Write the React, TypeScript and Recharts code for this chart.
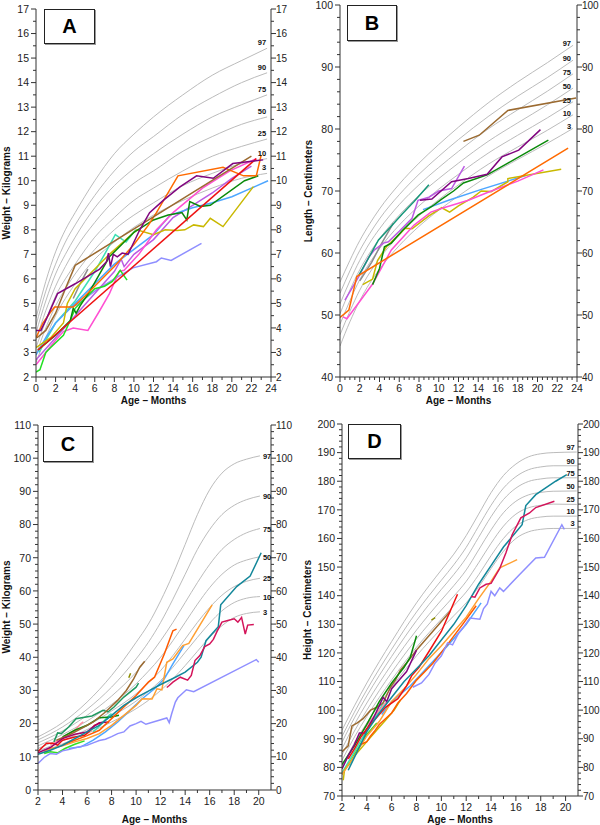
import React from 'react';
import { LineChart, Line, XAxis, YAxis } from 'recharts';

type Pt = [number, number];

const FONT = '"Liberation Sans", Arial, Helvetica, sans-serif';
const CENTILE_NAMES = ['97', '90', '75', '50', '25', '10', '3'];

// ---------- Panel A: weight, 0-24 months ----------
const A_AGES = [0, 1, 2, 3, 4, 6, 8, 10, 12, 15, 18, 21, 23.6];
const A_P97 = [4.4, 5.9, 7.1, 8.0, 8.7, 10.0, 11.1, 11.9, 12.6, 13.5, 14.3, 14.9, 15.4];
const A_P90 = [4.1, 5.5, 6.6, 7.5, 8.2, 9.4, 10.4, 11.2, 11.8, 12.7, 13.4, 14.0, 14.4];
const A_P75 = [3.8, 5.1, 6.2, 7.0, 7.7, 8.9, 9.8, 10.5, 11.1, 11.9, 12.6, 13.1, 13.5];
const A_P50 = [3.5, 4.7, 5.7, 6.5, 7.2, 8.3, 9.2, 9.9, 10.4, 11.2, 11.8, 12.3, 12.6];
const A_P25 = [3.2, 4.3, 5.3, 6.0, 6.6, 7.7, 8.5, 9.2, 9.7, 10.4, 11.0, 11.4, 11.7];
const A_P10 = [2.9, 4.0, 4.9, 5.6, 6.2, 7.2, 8.0, 8.6, 9.1, 9.8, 10.3, 10.7, 10.9];
const A_P3 = [2.6, 3.6, 4.5, 5.2, 5.8, 6.8, 7.5, 8.1, 8.6, 9.2, 9.7, 10.1, 10.3];

const A_RED: Pt[] = [[0.2, 3.1], [22.5, 10.9]];
const A_BROWN: Pt[] = [[0.1, 3.6], [1, 3.9], [2, 4.6], [3, 5.6], [4, 6.55], [22, 11.0]];
const A_PURPLE: Pt[] = [[0, 3.9], [0.5, 3.9], [1.1, 4.4], [2.2, 5.4], [4, 5.8], [6.5, 6.4], [7.2, 6.7], [7.4, 7.05], [7.6, 6.5], [7.9, 7.0], [8.3, 6.9], [8.8, 7.05], [9.4, 7.0], [10.6, 8.0], [11.6, 8.7], [13, 9.2], [14.7, 9.75], [16.4, 10.2], [18.1, 10.1], [20.1, 10.7], [23.2, 10.85]];
const A_ORANGE: Pt[] = [[0, 3.6], [0.7, 4.2], [1.4, 4.6], [1.9, 4.85], [3.8, 4.85], [5, 5.3], [6.5, 5.9], [8, 6.5], [10, 7.4], [11.5, 8.2], [12.3, 8.7], [14.5, 10.2], [19.1, 10.55], [21.2, 10.2], [22.5, 10.2], [23, 11.05]];
const A_DKGREEN: Pt[] = [[0.2, 3.1], [2, 3.7], [3.5, 4.3], [3.8, 4.8], [4.1, 4.6], [4.5, 4.9], [5.5, 5.5], [6.5, 6.2], [7.5, 6.9], [8.5, 7.3], [10, 7.9], [12, 8.4], [13.5, 8.6], [14.9, 8.7], [15.4, 8.4], [15.7, 9.15], [16.8, 8.95], [17.8, 9.0], [21.3, 10.0], [22.7, 10.2]];
const A_BLUE: Pt[] = [[0, 2.9], [1, 3.6], [2, 4.2], [4, 5.0], [6, 5.8], [8, 6.6], [10, 7.2], [12, 7.8], [13.7, 8.6], [16, 8.9], [18, 9.1], [20, 9.35], [22, 9.7], [23.7, 10.0]];
const A_YELLOW: Pt[] = [[0, 3.2], [1.5, 3.6], [2.8, 4.2], [3.2, 5.0], [4, 5.6], [5.5, 6.2], [7.5, 7.0], [10.3, 8.0], [12, 7.8], [13.2, 8.0], [14.4, 7.97], [15.2, 8.0], [16.1, 8.2], [17.1, 8.13], [17.8, 8.47], [19.1, 8.13], [22.2, 9.76]];
const A_PINK: Pt[] = [[0, 2.5], [1, 3.0], [2, 3.5], [2.8, 3.85], [3.8, 4.0], [5.3, 3.9], [6.5, 4.7], [7.5, 5.4], [8.5, 6.3], [9.0, 6.35], [10.5, 7.0], [12.3, 8.0], [14, 8.7], [17, 9.7], [19.8, 10.4], [22.5, 10.9]];
const A_ORCHID: Pt[] = [[0, 2.7], [2, 3.6], [4, 4.5], [6, 5.4], [8, 6.3], [8.7, 6.8], [9, 6.5], [10, 7.0], [12, 7.6], [14, 8.5], [16, 9.0], [18, 9.5], [20, 10.1], [22, 10.6]];
const A_AQUA: Pt[] = [[0.3, 3.0], [2, 4.2], [4, 5.1], [6, 6.3], [7, 7.0], [8.1, 7.8], [9.2, 7.5], [10.2, 8.0]];
const A_BRGREEN: Pt[] = [[0, 2.2], [0.4, 2.3], [1, 3.0], [1.5, 3.2], [2.8, 3.7], [3.5, 4.3], [4, 4.8], [5, 5.2], [6, 5.6], [7, 5.7], [7.8, 5.9], [8.6, 6.35], [9.3, 5.95]];
const A_PERI: Pt[] = [[4, 4.9], [6, 5.5], [8, 6.0], [9.9, 6.45], [12.3, 6.7], [12.8, 6.85], [13.8, 6.75], [16.9, 7.45]];
const A_GRAY: Pt[] = [[3.8, 5.2], [4.5, 5.8], [5.3, 6.4]];

// ---------- Panel B: length, 0-24 months ----------
const B_AGES = [0, 1, 2, 3, 4, 6, 8, 10, 12, 15, 18, 21, 23.6];
const B_P97 = [55.3, 58.8, 62.0, 64.7, 67.1, 71.1, 74.5, 77.5, 80.3, 84.2, 87.6, 90.7, 93.5];
const B_P90 = [53.5, 57.1, 60.4, 63.1, 65.5, 69.4, 72.7, 75.6, 78.3, 82.0, 85.3, 88.3, 91.1];
const B_P75 = [51.8, 55.5, 58.8, 61.6, 63.9, 67.8, 71.0, 73.8, 76.4, 80.0, 83.1, 86.1, 88.9];
const B_P50 = [50.2, 54.0, 57.3, 60.0, 62.3, 66.1, 69.3, 72.0, 74.5, 78.0, 81.0, 83.9, 86.6];
const B_P25 = [48.5, 52.3, 55.7, 58.4, 60.7, 64.5, 67.6, 70.3, 72.7, 76.1, 79.0, 81.8, 84.4];
const B_P10 = [46.8, 50.6, 54.0, 56.8, 59.1, 62.9, 66.0, 68.6, 71.0, 74.3, 77.1, 79.8, 82.3];
const B_P3 = [45.0, 48.9, 52.3, 55.1, 57.4, 61.2, 64.3, 66.9, 69.2, 72.4, 75.1, 77.7, 80.1];

const B_BROWN: Pt[] = [[12.5, 78.0], [14.1, 79.0], [17.0, 83.0], [23.9, 85.0]];
const B_PURPLE: Pt[] = [[8.1, 68.5], [9.3, 68.7], [11.3, 71.5], [13, 72.0], [14.9, 72.7], [16.4, 75.5], [18.1, 76.6], [20.3, 79.9]];
const B_DKGREEN: Pt[] = [[3.3, 54.9], [4.0, 57.5], [4.5, 61.0], [5.2, 61.6], [6.3, 63.6], [7.9, 66.1], [9.3, 67.5], [10.3, 68.7], [11.5, 70.0], [12.5, 71.3], [14.9, 72.6], [17, 74.5], [21.1, 78.2]];
const B_TEAL: Pt[] = [[1.9, 56.4], [3.0, 59.5], [3.9, 62.1], [5, 64.0], [6.3, 66.3], [7.5, 68.3], [9.0, 71.0]];
const B_ORCHID: Pt[] = [[0.5, 52.4], [1.9, 56.2], [2.9, 59.3], [3.5, 60.5], [4.4, 61.6], [4.9, 61.8], [6, 63.5], [7.3, 65.6], [7.9, 68.5], [9, 69.0], [10, 70.0], [11.3, 70.4], [12.6, 74.0]];
const B_BLUE: Pt[] = [[8.4, 67.0], [11, 68.5], [14.4, 70.3], [18.8, 72.5]];
const B_YELLOW: Pt[] = [[2.3, 54.9], [3.3, 55.8], [3.8, 58.8], [4.7, 61.0], [6, 63.0], [6.6, 64.0], [7.3, 63.9], [9, 66.0], [10.3, 67.3], [11.1, 66.6], [12, 67.6], [13.5, 69.0], [14.3, 70.0], [15.3, 69.9], [17.0, 71.5], [17.0, 72.0], [22.4, 73.5]];
const B_PINK: Pt[] = [[0.3, 49.7], [0.7, 49.4], [3.3, 55.0], [5.2, 60.5], [7.5, 64.5], [9.2, 66.6], [10.5, 67.3], [13, 68.5], [15, 69.8], [18, 71.6], [20.6, 73.4]];
const B_ORANGE: Pt[] = [[0, 49.6], [0.9, 50.8], [1.3, 53.5], [1.7, 56.2], [23.1, 76.9]];
const B_GRAY: Pt[] = [[2.0, 55.5], [3.2, 58.5], [4.2, 61.5], [5.4, 64.8]];

// ---------- Panel C: weight, 2-20 years ----------
const C_AGES = [2, 4, 6, 8, 10, 11, 12, 13, 14, 15, 16, 17, 18, 19, 20.1];
const C_P97 = [16.0, 20.3, 26.5, 34.5, 44.5, 50.0, 57.0, 65.0, 74.0, 83.0, 90.5, 95.5, 98.3, 99.7, 100.7];
const C_P90 = [15.1, 19.0, 24.3, 31.0, 39.5, 44.5, 50.5, 57.5, 65.0, 72.5, 78.5, 83.0, 85.8, 87.5, 88.6];
const C_P75 = [14.2, 17.8, 22.5, 28.3, 35.5, 40.0, 45.0, 50.5, 56.5, 62.5, 68.0, 72.5, 75.5, 77.5, 78.8];
const C_P50 = [13.3, 16.7, 20.8, 25.8, 32.0, 35.8, 40.0, 45.0, 50.5, 56.0, 61.0, 65.0, 67.8, 69.3, 70.3];
const C_P25 = [12.5, 15.7, 19.3, 23.8, 29.0, 32.3, 36.0, 40.5, 45.5, 50.5, 55.0, 58.7, 61.3, 62.9, 63.8];
const C_P10 = [11.7, 14.8, 18.2, 22.2, 26.8, 29.7, 33.0, 37.0, 41.5, 46.0, 50.3, 54.0, 56.5, 57.8, 58.3];
const C_P3 = [10.8, 13.9, 17.0, 20.5, 24.5, 27.0, 30.0, 33.5, 37.5, 41.8, 46.0, 49.5, 52.0, 53.2, 53.7];

const C_PERI: Pt[] = [[2, 8.0], [2.5, 9.8], [3, 11.0], [3.5, 10.8], [4, 11.8], [4.5, 12.2], [5, 12.7], [5.6, 13.2], [6, 13.5], [6.5, 14.2], [7, 14.9], [7.5, 15.3], [8, 16.1], [8.5, 17.0], [9, 17.5], [9.5, 19.3], [10, 20.0], [10.4, 20.7], [10.8, 19.8], [12.5, 21.7], [12.7, 20.3], [12.9, 23.0], [13.2, 26.5], [13.4, 27.8], [14.1, 30.2], [14.7, 29.6], [19.8, 39.3], [20.0, 38.5]];
const C_CRIMSON: Pt[] = [[12.5, 30.9], [12.7, 31.5], [13.0, 32.5], [13.6, 34.0], [14.2, 33.1], [14.5, 34.5], [14.8, 39.0], [15.2, 40.5], [15.6, 43.2], [16.0, 44.0], [16.3, 45.4], [16.6, 47.8], [17.0, 50.6], [17.4, 51.0], [18.0, 51.6], [18.3, 50.6], [18.6, 52.0], [18.9, 47.0], [19.1, 49.7], [19.6, 49.9]];
const C_TEAL: Pt[] = [[2, 10.8], [3, 12.0], [4, 13.5], [5, 15.5], [6, 17.5], [7, 19.5], [8, 22.5], [9, 25.5], [10, 27.8], [11, 29.8], [12, 31.8], [13, 33.6], [14, 35.5], [15, 38.5], [15.3, 40.0], [15.7, 45.0], [16.7, 49.2], [16.9, 55.8], [18.2, 61.3], [19.3, 64.5], [20.2, 71.5]];
const C_ORANGE: Pt[] = [[4, 13.6], [5, 15.0], [6, 16.4], [7, 18.0], [8, 21.5], [9, 25.0], [10, 28.5], [11, 32.5], [11.5, 34.0], [12.3, 41.0], [13.0, 48.0], [13.3, 48.5]];
const C_LTORANGE: Pt[] = [[2.5, 11.5], [3, 12.5], [4, 13.3], [5, 14.5], [6, 15.5], [7, 17.0], [8, 19.5], [9, 22.5], [10, 25.5], [10.5, 27.5], [11.3, 27.4], [11.7, 30.5], [12.1, 30.2], [12.5, 38.5], [13.0, 39.5], [13.8, 43.5], [14.3, 44.2], [16.2, 55.8]];
const C_BLUE: Pt[] = [[4.5, 12.5], [5.5, 13.0], [6.5, 15.0], [7.5, 17.5], [8.5, 20.5], [9.5, 24.0], [10.5, 27.5], [11.5, 30.5], [12.3, 33.5], [13, 38], [13.9, 43.5]];
const C_BROWN: Pt[] = [[3.5, 15.0], [4.5, 16.5], [5.5, 18.5], [6.5, 20.5], [7.5, 23.5], [8.5, 27.0], [9.2, 30], [9.8, 33.5], [10.3, 37.0], [10.7, 38.8]];
const C_OLIVE: Pt[] = [[9.4, 33.8], [9.55, 35.2]];
const C_SEAGREEN: Pt[] = [[3.3, 14.5], [3.6, 17.2], [3.9, 17.0], [4.5, 19.0], [5.1, 21.5], [6.4, 22.3], [7.3, 24.0], [7.7, 23.5], [8.2, 25.0], [9.0, 28.0], [10.0, 31.0], [10.2, 32.2]];
const C_BRGREEN: Pt[] = [[2.5, 11.0], [3, 11.5], [3.6, 11.2], [4.2, 12.5], [5, 13.8], [5.8, 14.8]];
const C_DKGREEN: Pt[] = [[4, 16], [5, 18], [6, 19.5], [7, 21.8], [8, 22.0], [8.6, 22.5]];
const C_RED: Pt[] = [[2, 11.6], [2.7, 14.1], [3.2, 14.1], [3.6, 13.5], [4.0, 15.0], [5.0, 16.0], [5.8, 16.5], [6.3, 18.0], [6.6, 19.5], [7.1, 20.2]];
const C_MAGENTA: Pt[] = [[2, 11.2], [3, 12.8], [4, 15.5], [5, 16.8], [6, 17.5], [6.5, 19.0], [7.0, 20.3], [7.8, 20.5]];
const C_SALMON: Pt[] = [[3, 13.5], [3.7, 15.0], [4.3, 16.5], [5.0, 18.0], [5.5, 20.0], [5.7, 20.5]];
const C_AQUA: Pt[] = [[6.5, 17.5], [7.2, 20], [7.8, 22.5], [8, 23.0]];

// ---------- Panel D: height, 2-20 years ----------
const D_AGES = [2, 3, 4, 6, 8, 10, 11, 12, 13, 14, 15, 16, 17, 18, 19, 20.9];
const D_P97 = [93.0, 101.5, 109.5, 124.0, 137.5, 149.0, 154.5, 161.0, 168.5, 176.0, 182.0, 186.0, 188.5, 189.6, 190.0, 190.2];
const D_P90 = [90.8, 99.3, 107.1, 121.3, 134.3, 145.4, 150.8, 156.9, 164.3, 171.6, 177.6, 181.6, 184.0, 185.0, 185.4, 185.4];
const D_P75 = [88.8, 97.3, 105.0, 118.8, 131.3, 142.2, 147.4, 153.2, 160.4, 167.6, 173.6, 177.6, 179.9, 180.8, 181.2, 181.2];
const D_P50 = [86.5, 95.0, 102.5, 116.0, 128.0, 138.5, 143.5, 149.0, 156.0, 163.0, 169.0, 173.0, 175.2, 176.1, 176.5, 176.6];
const D_P25 = [84.4, 92.7, 100.0, 113.2, 124.9, 135.0, 139.8, 145.0, 151.5, 158.3, 164.3, 168.5, 170.7, 171.6, 172.0, 171.9];
const D_P10 = [82.5, 90.6, 97.8, 110.6, 122.0, 131.8, 136.5, 141.3, 147.3, 154.0, 160.0, 164.3, 166.6, 167.5, 167.8, 167.8];
const D_P3 = [80.5, 88.5, 95.5, 108.0, 119.0, 128.5, 133.0, 137.5, 143.0, 149.5, 155.5, 160.0, 162.3, 163.2, 163.5, 163.5];

const D_PERI: Pt[] = [[7.7, 108.0], [8.4, 109.5], [9.0, 112.5], [9.5, 116.5], [10.0, 119.0], [10.5, 123.5], [10.9, 122.8], [11.4, 127.0], [11.7, 128.5], [12.3, 132.2], [13.1, 131.8], [13.4, 135.5], [13.7, 137.1], [14.0, 141.5], [14.3, 140.0], [14.7, 142.7], [15.0, 141.5], [16.3, 147.4], [17.6, 153.2], [18.3, 153.4], [19.7, 164.8], [19.9, 163.2]];
const D_TEAL: Pt[] = [[2.5, 79.0], [3.0, 83.5], [3.5, 88.0], [4.0, 92.5], [5.0, 99.0], [6.0, 104.5], [7.0, 110.0], [8.0, 114.5], [9.0, 119.0], [10.0, 124.5], [11.0, 130.0], [12.0, 136.5], [13.0, 144.0], [14.0, 150.5], [15.0, 157.0], [16.5, 164.8], [16.8, 171.5], [17.6, 175.3], [19.2, 180.0], [20.1, 182.3]];
const D_CRIMSON: Pt[] = [[12.4, 139.7], [12.7, 139.5], [13.1, 142.7], [13.6, 144.0], [14.0, 144.3], [14.7, 149.5], [15.2, 155.0], [15.7, 161.3], [16.4, 167.2], [17.1, 168.9], [17.6, 170.8], [19.1, 173.0]];
const D_LTORANGE: Pt[] = [[2.0, 77.5], [3.0, 84.0], [4.0, 91.0], [5, 96], [6, 103.0], [7, 107.5], [8, 112.5], [9, 118.0], [10, 122.5], [11, 127.5], [12, 132.5], [13, 139.0], [14, 145], [14.7, 149.7], [16.1, 152.6]];
const D_ORANGE: Pt[] = [[3.5, 88.0], [4.0, 89.0], [4.3, 91.0], [4.6, 92.5], [5.0, 95.0], [5.5, 97.0], [6.0, 99.0], [6.5, 102.5], [7.2, 105.8], [8.0, 110.5], [9.3, 116.3], [10.5, 123.0], [11.8, 130.5], [12.8, 136.5]];
const D_BLUE: Pt[] = [[5.2, 98.5], [6, 103], [7.5, 108.5], [9, 115.5], [10.5, 122.5], [12, 130.0], [13.2, 137.5]];
const D_RED: Pt[] = [[2.5, 83.0], [3.0, 86.5], [3.5, 90.5], [4.0, 93.5], [5.0, 98.5], [5.5, 101.0], [6.5, 104.0], [7.2, 108.5], [7.6, 112.0], [8.2, 115.0], [9.0, 120.5], [10.0, 127.5], [11.3, 140.5]];
const D_DKGREEN: Pt[] = [[2.0, 81.0], [3.0, 87.5], [4.0, 95.0], [5.0, 103.0], [6.0, 109.5], [7.0, 115.0], [7.5, 118.5], [8.0, 126.0]];
const D_BROWN: Pt[] = [[2.0, 85.5], [2.5, 87.5], [2.8, 94.5], [3.2, 95.5], [3.7, 97.0], [4.3, 100.0], [4.8, 101.0], [5.3, 102.5], [5.9, 108.0], [6.3, 110.5], [6.7, 114.0], [7.3, 117.0], [8.0, 121.0], [9.0, 126.0], [10.0, 131.0], [10.7, 134.5]];
const D_PURPLE: Pt[] = [[2.0, 79.5], [2.5, 84.0], [3.0, 88.0], [3.4, 92.0], [3.8, 92.0], [4.5, 97.0], [5.0, 101.5], [5.3, 104.5], [5.6, 103.0], [6.0, 107.5], [6.5, 110.0], [7.2, 113.5], [8.0, 121.0]];
const D_BRGREEN: Pt[] = [[2.5, 80.5], [3.0, 84.5], [3.5, 88.0], [4.0, 91.5], [4.4, 93.5], [4.8, 95.5]];
const D_YELLOW: Pt[] = [[2.1, 75.5], [2.2, 79.0], [3.0, 84.0], [4.0, 89.0], [5.0, 94.0], [5.5, 96.5], [6.2, 100.0], [6.7, 103.5]];
const D_SALMON: Pt[] = [[3.0, 88.5], [3.7, 93.0], [4.5, 97.5], [5.0, 100.0], [5.6, 103.0]];
const D_AQUA: Pt[] = [[2.0, 78.0], [3.0, 85.5], [4.0, 93.0], [5.0, 100.0], [5.5, 104.0]];
const D_OLIVE: Pt[] = [[9.2, 131.5], [9.5, 132.3]];

const range = (a: number, b: number, s: number) => {
  const out: number[] = [];
  for (let v = a; v <= b + 1e-9; v += s) out.push(Math.round(v * 100) / 100);
  return out;
};

const isMajor = (v: number, every: number) => Math.abs(v / every - Math.round(v / every)) < 1e-6;

function AxisTick(props: any) {
  const { x, y, payload, side, every } = props;
  const v = payload.value;
  const major = isMajor(v, every);
  const len = major ? 5 : 3;
  const txt = { fontFamily: FONT, fontSize: 10.5, fill: '#222' };
  if (side === 'left') {
    return (
      <g>
        <line x1={x - len} x2={x} y1={y} y2={y} stroke="#333" />
        {major && <text x={x - 7} y={y} dy={3.8} textAnchor="end" {...txt}>{v}</text>}
      </g>
    );
  }
  if (side === 'right') {
    return (
      <g>
        <line x1={x} x2={x + len} y1={y} y2={y} stroke="#333" />
        {major && <text x={x + 5} y={y} dy={3.6} textAnchor="start" {...txt} fontSize={10}>{v}</text>}
      </g>
    );
  }
  return (
    <g>
      <line x1={x} x2={x} y1={y} y2={y + len} stroke="#333" />
      {major && <text x={x} y={y + 15} textAnchor="middle" {...txt}>{v}</text>}
    </g>
  );
}

const rows = (pts: Pt[]) => pts.map(([x, y]) => ({ x, y }));

interface PanelCfg {
  left: number; top: number; letter: string; yTitle: string;
  xDomain: [number, number]; yDomain: [number, number];
  xTicks: number[]; yTicks: number[]; xMajor: number; yMajor: number;
  margin: { top: number; bottom: number; left: number; right: number };
  yLeftW: number; yRightW: number;
  ages: number[]; centiles: number[][];
  patients: [Pt[], string][];
  lab: { dx: number; dy: number; anchor: string };
  box: { x: number; y: number; w: number; h: number };
  yTitlePos: { x: number; y: number };
  xTitleY: number;
}

const PANELS: PanelCfg[] = [
  {
    left: 0, top: 0, letter: 'A', yTitle: 'Weight – Kilograms',
    xDomain: [0, 24], yDomain: [2, 17], xTicks: range(0, 24, 1), yTicks: range(2, 17, 0.5), xMajor: 2, yMajor: 1,
    margin: { top: 9, bottom: 13, left: 0, right: 0 }, yLeftW: 36, yRightW: 29,
    ages: A_AGES, centiles: [A_P97, A_P90, A_P75, A_P50, A_P25, A_P10, A_P3],
    patients: [
      [A_GRAY, '#8c8c8c'], [A_PERI, '#8f8fff'], [A_ORCHID, '#bb5be3'], [A_AQUA, '#3ee0b4'],
      [A_BLUE, '#4da6ff'], [A_YELLOW, '#c9b800'], [A_PINK, '#ff4fd2'], [A_BRGREEN, '#22e022'],
      [A_DKGREEN, '#0a8a0a'], [A_ORANGE, '#ff6a00'], [A_BROWN, '#9b6a30'], [A_RED, '#ee1111'],
      [A_PURPLE, '#80057f'],
    ],
    lab: { dx: -1, dy: -3, anchor: 'end' },
    box: { x: 44, y: 9, w: 51, h: 35 }, yTitlePos: { x: 7, y: 193 }, xTitleY: 401,
  },
  {
    left: 300, top: 0, letter: 'B', yTitle: 'Length – Centimeters',
    xDomain: [0, 24], yDomain: [40, 100], xTicks: range(0, 24, 0.5), yTicks: range(40, 100, 2), xMajor: 2, yMajor: 10,
    margin: { top: 5, bottom: 13, left: 0, right: 0 }, yLeftW: 40, yRightW: 23,
    ages: B_AGES, centiles: [B_P97, B_P90, B_P75, B_P50, B_P25, B_P10, B_P3],
    patients: [
      [B_GRAY, '#8c8c8c'], [B_BLUE, '#4da6ff'], [B_YELLOW, '#c9b800'], [B_PINK, '#ff4fd2'],
      [B_ORCHID, '#bb5be3'], [B_TEAL, '#16977a'], [B_DKGREEN, '#0a8a0a'], [B_BROWN, '#9b6a30'],
      [B_PURPLE, '#80057f'], [B_ORANGE, '#ff6a00'],
    ],
    lab: { dx: -2, dy: 1, anchor: 'end' },
    box: { x: 47, y: 5, w: 50, h: 36 }, yTitlePos: { x: 9, y: 191 }, xTitleY: 401,
  },
  {
    left: 0, top: 415, letter: 'C', yTitle: 'Weight – Kilograms',
    xDomain: [2, 21], yDomain: [0, 110], xTicks: range(2, 20, 1), yTicks: range(0, 110, 2), xMajor: 2, yMajor: 10,
    margin: { top: 10, bottom: 15, left: 0, right: 0 }, yLeftW: 38, yRightW: 29,
    ages: C_AGES, centiles: [C_P97, C_P90, C_P75, C_P50, C_P25, C_P10, C_P3],
    patients: [
      [C_AQUA, '#3ee0b4'], [C_SALMON, '#ff8fa0'], [C_BRGREEN, '#33e022'], [C_DKGREEN, '#0a8a0a'],
      [C_BLUE, '#4da6ff'], [C_LTORANGE, '#ffa033'], [C_SEAGREEN, '#1f9960'], [C_BROWN, '#9b6a30'],
      [C_OLIVE, '#8c8c00'], [C_RED, '#ee1111'], [C_MAGENTA, '#a0006a'], [C_ORANGE, '#ff5a00'],
      [C_TEAL, '#13879a'], [C_CRIMSON, '#d4145a'], [C_PERI, '#8f8fff'],
    ],
    lab: { dx: 3, dy: 3, anchor: 'start' },
    box: { x: 43, y: 11, w: 50, h: 36 }, yTitlePos: { x: 7, y: 192 }, xTitleY: 405,
  },
  {
    left: 300, top: 415, letter: 'D', yTitle: 'Height – Centimeters',
    xDomain: [2, 21], yDomain: [70, 200], xTicks: range(2, 20, 1), yTicks: range(70, 200, 2), xMajor: 2, yMajor: 10,
    margin: { top: 9, bottom: 9, left: 0, right: 0 }, yLeftW: 42, yRightW: 22,
    ages: D_AGES, centiles: [D_P97, D_P90, D_P75, D_P50, D_P25, D_P10, D_P3],
    patients: [
      [D_AQUA, '#3ee0b4'], [D_SALMON, '#ff8fa0'], [D_YELLOW, '#c9b800'], [D_BRGREEN, '#33e022'],
      [D_BLUE, '#4da6ff'], [D_LTORANGE, '#ffa033'], [D_ORANGE, '#ff5a00'], [D_PERI, '#8f8fff'],
      [D_BROWN, '#9b6a30'], [D_DKGREEN, '#0a8a0a'], [D_PURPLE, '#80057f'], [D_RED, '#ee1111'],
      [D_OLIVE, '#8c8c00'], [D_TEAL, '#13879a'], [D_CRIMSON, '#d4145a'],
    ],
    lab: { dx: -2, dy: -2, anchor: 'end' },
    box: { x: 48, y: 9, w: 53, h: 35 }, yTitlePos: { x: 8, y: 195 }, xTitleY: 405,
  },
];

function Panel({ cfg }: { cfg: PanelCfg }) {
  const W = 300;
  const H = 410;
  const plotL = cfg.margin.left + cfg.yLeftW;
  const plotR = W - cfg.margin.right - cfg.yRightW;
  const last = cfg.ages.length - 1;
  return (
    <div style={{ position: 'absolute', left: cfg.left, top: cfg.top, width: W, height: H }}>
      <LineChart width={W} height={H} margin={cfg.margin}>
        <XAxis
          type="number" dataKey="x" domain={cfg.xDomain} ticks={cfg.xTicks} interval={0}
          height={20} tickSize={0} tickMargin={0} allowDataOverflow
          axisLine={{ stroke: '#333' }} tickLine={false}
          tick={<AxisTick side="bottom" every={cfg.xMajor} />}
        />
        <YAxis
          yAxisId="l" type="number" domain={cfg.yDomain} ticks={cfg.yTicks} interval={0}
          width={cfg.yLeftW} tickSize={0} tickMargin={0} allowDataOverflow
          axisLine={{ stroke: '#333' }} tickLine={false}
          tick={<AxisTick side="left" every={cfg.yMajor} />}
        />
        <YAxis
          yAxisId="r" orientation="right" type="number" domain={cfg.yDomain} ticks={cfg.yTicks} interval={0}
          width={cfg.yRightW} tickSize={0} tickMargin={0} allowDataOverflow
          axisLine={{ stroke: '#333' }} tickLine={false}
          tick={<AxisTick side="right" every={cfg.yMajor} />}
        />
        {cfg.centiles.map((vals, i) => (
          <Line
            key={'c' + i}
            yAxisId="r"
            data={cfg.ages.map((x, j) => ({ x, y: vals[j] }))}
            dataKey="y"
            type="monotone"
            stroke="#b3b3b3"
            strokeWidth={0.9}
            dot={false}
            activeDot={false}
            isAnimationActive={false}
            label={(p: any) =>
              p.index === last ? (
                <text
                  x={p.x + cfg.lab.dx} y={p.y + cfg.lab.dy} textAnchor={cfg.lab.anchor}
                  fontFamily={FONT} fontSize={7.5} fontWeight="bold" fill="#111"
                >
                  {CENTILE_NAMES[i]}
                </text>
              ) : null
            }
          />
        ))}
        {cfg.patients.map(([pts, color], i) => (
          <Line
            key={'p' + i}
            yAxisId="l"
            data={rows(pts)}
            dataKey="y"
            type="linear"
            stroke={color}
            strokeWidth={1.5}
            dot={false}
            activeDot={false}
            isAnimationActive={false}
          />
        ))}
      </LineChart>
      <div
        style={{
          position: 'absolute', left: cfg.box.x, top: cfg.box.y, width: cfg.box.w, height: cfg.box.h,
          boxSizing: 'border-box', border: '1.5px solid #222', boxShadow: '1px 1px 0 #999', background: '#fff',
          display: 'flex', alignItems: 'center', justifyContent: 'center',
          fontFamily: FONT, fontWeight: 'bold', fontSize: 20, color: '#000',
        }}
      >
        {cfg.letter}
      </div>
      <div
        style={{
          position: 'absolute', left: cfg.yTitlePos.x - 100, top: cfg.yTitlePos.y - 7, width: 200, height: 14,
          transform: 'rotate(-90deg)', textAlign: 'center', lineHeight: '14px',
          fontFamily: FONT, fontWeight: 'bold', fontSize: 10, color: '#111', whiteSpace: 'nowrap',
        }}
      >
        {cfg.yTitle}
      </div>
      <div
        style={{
          position: 'absolute', left: plotL, width: plotR - plotL, top: cfg.xTitleY - 7, height: 14,
          textAlign: 'center', lineHeight: '14px',
          fontFamily: FONT, fontWeight: 'bold', fontSize: 10, color: '#111', whiteSpace: 'nowrap',
        }}
      >
        Age – Months
      </div>
    </div>
  );
}

export default function App() {
  return (
    <div style={{ position: 'absolute', left: 0, top: 0, width: 600, height: 825, background: '#fff', overflow: 'hidden' }}>
      {PANELS.map((p) => (
        <Panel key={p.letter} cfg={p} />
      ))}
    </div>
  );
}
